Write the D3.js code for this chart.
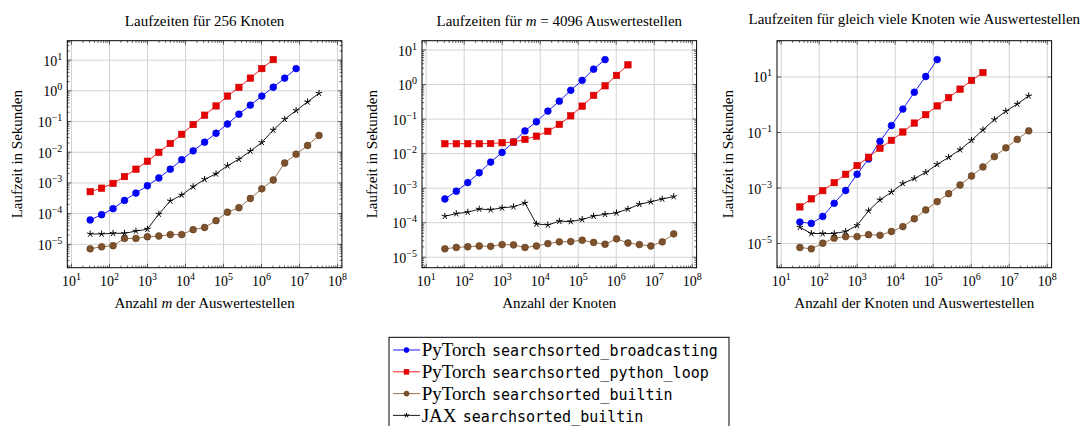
<!DOCTYPE html>
<html>
<head>
<meta charset="utf-8">
<script src="https://cdn.jsdelivr.net/npm/d3@7"></script>
<style>
  html, body { margin: 0; padding: 0; background: #fff; }
  svg { display: block; }
  text { font-family: "Liberation Serif", "Times New Roman", serif; fill: #000; }
  .mono { font-family: "DejaVu Sans Mono", monospace; }
</style>
</head>
<body>
<svg id="chart" width="1087" height="426"></svg>
<script>
// Problem sizes (number of evaluation points / nodes): 2^5 ... 2^25
const sizes = [32, 64, 128, 256, 512, 1024, 2048, 4096, 8192, 16384, 32768, 65536,
  131072, 262144, 524288, 1048576, 2097152, 4194304, 8388608, 16777216, 33554432];

// Panel 1: 256 nodes, varying m
const p1Broadcast = [6.0e-5, 8.9e-5, 1.4e-4, 2.6e-4, 4.5e-4, 7.8e-4, 1.4e-3, 2.7e-3, 5.5e-3, 0.0107,
  0.0205, 0.040, 0.080, 0.167, 0.33, 0.65, 1.26, 2.5, 5.1];
const p1Loop = [5.0e-4, 6.5e-4, 9.3e-4, 1.55e-3, 2.7e-3, 4.9e-3, 9.6e-3, 0.0186, 0.037, 0.077,
  0.155, 0.31, 0.65, 1.25, 2.5, 5.1, 10.0];
const p1Builtin = [6.9e-6, 8.0e-6, 8.7e-6, 1.5e-5, 1.5e-5, 1.7e-5, 1.8e-5, 2.0e-5, 2.0e-5, 2.9e-5,
  3.4e-5, 5.7e-5, 1.07e-4, 1.5e-4, 3.0e-4, 6.2e-4, 1.2e-3, 4.3e-3, 8.3e-3, 0.016, 0.034];
const p1Jax = [2.1e-5, 2.1e-5, 2.2e-5, 2.2e-5, 2.6e-5, 3.0e-5, 9.3e-5, 2.5e-4, 3.9e-4, 7.3e-4,
  1.26e-3, 1.9e-3, 3.5e-3, 5.7e-3, 0.0105, 0.020, 0.051, 0.114, 0.22, 0.42, 0.80];

// Panel 2: m = 4096, varying number of nodes
const p2Broadcast = [4.7e-4, 7.9e-4, 1.4e-3, 2.7e-3, 5.5e-3, 0.0105, 0.021, 0.044, 0.081, 0.165,
  0.32, 0.66, 1.28, 2.7, 5.1];
const p2Loop = [0.0187, 0.0187, 0.0187, 0.0187, 0.019, 0.020, 0.021, 0.025, 0.031, 0.043,
  0.068, 0.12, 0.23, 0.47, 0.89, 1.78, 3.6];
const p2Builtin = [1.7e-5, 1.86e-5, 1.95e-5, 2.05e-5, 2.0e-5, 2.25e-5, 2.2e-5, 1.86e-5, 2.05e-5, 2.4e-5,
  2.7e-5, 2.75e-5, 3.0e-5, 2.6e-5, 2.3e-5, 3.3e-5, 2.5e-5, 2.25e-5, 2.05e-5, 2.7e-5, 4.6e-5];
const p2Jax = [1.49e-4, 1.77e-4, 1.95e-4, 2.4e-4, 2.3e-4, 2.6e-4, 2.8e-4, 3.6e-4, 8.9e-5, 8.3e-5,
  1.07e-4, 1.05e-4, 1.2e-4, 1.5e-4, 1.7e-4, 1.86e-4, 2.4e-4, 3.3e-4, 3.9e-4, 4.7e-4, 5.5e-4];

// Panel 3: as many nodes as evaluation points
const p3Broadcast = [5.7e-5, 5.1e-5, 9.1e-5, 2.7e-4, 7.8e-4, 3.0e-3, 0.0107, 0.046, 0.17, 0.67,
  2.7, 10.0, 40.5];
const p3Loop = [2.0e-4, 3.9e-4, 7.7e-4, 1.5e-3, 3.0e-3, 6.2e-3, 0.0123, 0.026, 0.050, 0.10,
  0.21, 0.42, 0.87, 1.73, 3.5, 7.2, 13.9];
const p3Builtin = [6.9e-6, 6.2e-6, 9.8e-6, 1.5e-5, 1.7e-5, 1.7e-5, 2.0e-5, 1.9e-5, 2.6e-5, 3.9e-5,
  7.5e-5, 1.56e-4, 3.1e-4, 6.0e-4, 1.23e-3, 2.6e-3, 5.5e-3, 0.013, 0.027, 0.054, 0.11];
const p3Jax = [3.7e-5, 2.2e-5, 2.2e-5, 2.2e-5, 2.6e-5, 4.3e-5, 1.45e-4, 3.6e-4, 6.8e-4, 1.4e-3,
  2.1e-3, 3.5e-3, 6.8e-3, 0.0122, 0.023, 0.050, 0.12, 0.28, 0.56, 1.02, 2.0];

// Tick values
const xTickValues = [1e1, 1e2, 1e3, 1e4, 1e5, 1e6, 1e7, 1e8];
const yTickValuesDense = [1e-5, 1e-4, 1e-3, 1e-2, 1e-1, 1e0, 1e1];
const yTickValuesSparse = [1e-5, 1e-3, 1e-1, 1e1];

// Series styling and legend text
const seriesStyle = [
  { key: "broadcast", color: "#0000ff", fill: "#0000ff", edge: "#0000dd", mark: "circle",
    lib: "PyTorch", fn: "searchsorted_broadcasting" },
  { key: "loop", color: "#ff0000", fill: "#e60000", edge: "#cc0000", mark: "square",
    lib: "PyTorch", fn: "searchsorted_python_loop" },
  { key: "builtin", color: "#8f6035", fill: "#7d522c", edge: "#5e3d1f", mark: "circle",
    lib: "PyTorch", fn: "searchsorted_builtin" },
  { key: "jax", color: "#000000", fill: "#000000", edge: "#000000", mark: "star",
    lib: "JAX", fn: "searchsorted_builtin" }
];

const panels = [
  { left: 67.3, titleY: 26, ylabOff: 45.3,
    title: [["Laufzeiten für 256 Knoten", false]],
    xlabel: [["Anzahl ", false], ["m", true], [" der Auswertestellen", false]],
    yTicks: yTickValuesDense, yMinor: true,
    data: { broadcast: p1Broadcast, loop: p1Loop, builtin: p1Builtin, jax: p1Jax } },
  { left: 422, titleY: 26, ylabOff: 45.3,
    title: [["Laufzeiten für ", false], ["m", true], [" = 4096 Auswertestellen", false]],
    xlabel: [["Anzahl der Knoten", false]],
    yTicks: yTickValuesDense, yMinor: true,
    data: { broadcast: p2Broadcast, loop: p2Loop, builtin: p2Builtin, jax: p2Jax } },
  { left: 777, titleY: 23.5, ylabOff: 44,
    title: [["Laufzeiten für gleich viele Knoten wie Auswertestellen", false]],
    xlabel: [["Anzahl der Knoten und Auswertestellen", false]],
    yTicks: yTickValuesSparse, yMinor: false,
    data: { broadcast: p3Broadcast, loop: p3Loop, builtin: p3Builtin, jax: p3Jax } }
];

const W = 274.6, H = 227, TOP = 40.7;
const svg = d3.select("#chart");

// log-axis limits enlarged by 10% of the data range (in decades)
function enlargedLogDomain(values) {
  const lo = Math.log10(d3.min(values)), hi = Math.log10(d3.max(values));
  const pad = (hi - lo) * 0.1;
  return [Math.pow(10, lo - pad), Math.pow(10, hi + pad)];
}

function minorTicks(domain) {
  const out = [];
  const a = Math.floor(Math.log10(domain[0])) - 1, b = Math.ceil(Math.log10(domain[1]));
  for (let k = a; k <= b; k++)
    for (let m = 2; m <= 9; m++) {
      const v = m * Math.pow(10, k);
      if (v >= domain[0] * 0.999 && v <= domain[1]) out.push(v);
    }
  return out;
}

function expLabel(sel, v) {
  const e = Math.round(Math.log10(v));
  sel.text("");
  sel.append("tspan").text("10");
  sel.append("tspan").attr("font-size", 10).attr("dy", -6)
    .text(e < 0 ? "\u2212" + (-e) : String(e));
}

function starPath(s) {
  let p = "";
  for (let i = 0; i < 5; i++) {
    const a = -Math.PI / 2 + i * 2 * Math.PI / 5;
    p += "M0,0L" + (s * Math.cos(a)).toFixed(2) + "," + (s * Math.sin(a)).toFixed(2);
  }
  return p;
}

function drawMarker(g, type, x, y, st, scale) {
  if (type === "circle") {
    g.append("circle").attr("cx", x).attr("cy", y).attr("r", 3.4 * scale)
      .attr("fill", st.fill).attr("stroke", st.edge).attr("stroke-width", 0.6);
  } else if (type === "square") {
    const s = 6.4 * scale;
    g.append("rect").attr("x", x - s / 2).attr("y", y - s / 2).attr("width", s).attr("height", s)
      .attr("fill", st.fill).attr("stroke", st.edge).attr("stroke-width", 0.6);
  } else {
    g.append("path").attr("transform", `translate(${x},${y})`)
      .attr("d", starPath(3.4 * scale))
      .attr("fill", "none").attr("stroke", st.edge).attr("stroke-width", 1);
  }
}

panels.forEach(p => {
  const g = svg.append("g").attr("transform", `translate(${p.left},${TOP})`);
  const allY = [].concat(...Object.values(p.data));
  const x = d3.scaleLog().domain(enlargedLogDomain(sizes)).range([0, W]);
  const y = d3.scaleLog().domain(enlargedLogDomain(allY)).range([H, 0]);

  // grid
  const grid = g.append("g").attr("class", "grid");
  grid.append("g").attr("transform", `translate(0,${H})`)
    .call(d3.axisBottom(x).tickValues(xTickValues).tickSize(-H).tickFormat(""));
  grid.append("g")
    .call(d3.axisLeft(y).tickValues(p.yTicks).tickSize(-W).tickFormat(""));
  grid.selectAll(".domain").remove();
  grid.selectAll("line").attr("stroke", "#d2d2d2").attr("stroke-width", 1);

  // inward ticks on all four sides
  const ticks = g.append("g").attr("class", "ticks");
  const xMinor = minorTicks(x.domain());
  const yMinor = p.yMinor ? minorTicks(y.domain()) : [];
  const addTicks = (axisFn, scale, vals, len, tr) => {
    ticks.append("g").attr("transform", tr)
      .call(axisFn(scale).tickValues(vals).tickSize(-len).tickFormat(""));
  };
  addTicks(d3.axisBottom, x, xTickValues, 4, `translate(0,${H})`);
  addTicks(d3.axisBottom, x, xMinor, 2.2, `translate(0,${H})`);
  addTicks(d3.axisTop, x, xTickValues, 4, "translate(0,0)");
  addTicks(d3.axisTop, x, xMinor, 2.2, "translate(0,0)");
  addTicks(d3.axisLeft, y, p.yTicks, 4, "translate(0,0)");
  addTicks(d3.axisRight, y, p.yTicks, 4, `translate(${W},0)`);
  if (yMinor.length) {
    addTicks(d3.axisLeft, y, yMinor, 2.2, "translate(0,0)");
    addTicks(d3.axisRight, y, yMinor, 2.2, `translate(${W},0)`);
  }
  ticks.selectAll(".domain").remove();
  ticks.selectAll("line").attr("stroke", "#222").attr("stroke-width", 0.7);

  // series
  seriesStyle.forEach(st => {
    const vals = p.data[st.key];
    const pts = vals.map((v, i) => [x(sizes[i]), y(v)]);
    const sg = g.append("g");
    sg.append("path").attr("d", d3.line()(pts))
      .attr("fill", "none").attr("stroke", st.color).attr("stroke-width", 0.9);
    pts.forEach(([px, py]) => drawMarker(sg, st.mark, px, py, st, 1));
  });

  // frame
  g.append("rect").attr("width", W).attr("height", H)
    .attr("fill", "none").attr("stroke", "#000").attr("stroke-width", 1);

  // tick labels
  const xl = g.append("g").attr("transform", `translate(0,${H})`)
    .call(d3.axisBottom(x).tickValues(xTickValues).tickSize(0));
  xl.select(".domain").remove();
  xl.selectAll("text").attr("y", 18.5).attr("dy", null).attr("font-size", 14)
    .attr("font-family", null).each(function (d) { expLabel(d3.select(this), d); });

  const yl = g.append("g")
    .call(d3.axisLeft(y).tickValues(p.yTicks).tickSize(0).tickPadding(5));
  yl.select(".domain").remove();
  yl.selectAll("text").attr("dy", null).attr("y", 5.5).attr("font-size", 14)
    .attr("font-family", null).each(function (d) { expLabel(d3.select(this), d); });

  // title
  const t = svg.append("text").attr("x", p.left + W / 2).attr("y", p.titleY)
    .attr("text-anchor", "middle").attr("font-size", 15);
  p.title.forEach(([s, it]) => t.append("tspan").attr("font-style", it ? "italic" : null).text(s));

  // x label
  const xt = svg.append("text").attr("x", p.left + W / 2).attr("y", 308)
    .attr("text-anchor", "middle").attr("font-size", 15);
  p.xlabel.forEach(([s, it]) => xt.append("tspan").attr("font-style", it ? "italic" : null).text(s));

  // y label
  svg.append("text")
    .attr("transform", `translate(${p.left - p.ylabOff},${TOP + H / 2}) rotate(-90)`)
    .attr("text-anchor", "middle").attr("font-size", 15)
    .text("Laufzeit in Sekunden");
});

// legend
const lg = svg.append("g").attr("transform", "translate(389,337.3)");
lg.append("rect").attr("width", 340).attr("height", 100)
  .attr("fill", "#fff").attr("stroke", "#000").attr("stroke-width", 1);
seriesStyle.forEach((st, i) => {
  const cy = 12.7 + i * 21.8;
  lg.append("line").attr("x1", 4).attr("x2", 31).attr("y1", cy).attr("y2", cy)
    .attr("stroke", st.color).attr("stroke-width", 0.9);
  drawMarker(lg, st.mark, 17.5, cy, st, 0.75);
  const tx = lg.append("text").attr("x", 32.7).attr("y", cy + 6.5).attr("font-size", 19);
  tx.append("tspan").text(st.lib);
  tx.append("tspan").attr("class", "mono").attr("font-size", 15).attr("dx", 6.2).text(st.fn);
});
</script>
</body>
</html>
